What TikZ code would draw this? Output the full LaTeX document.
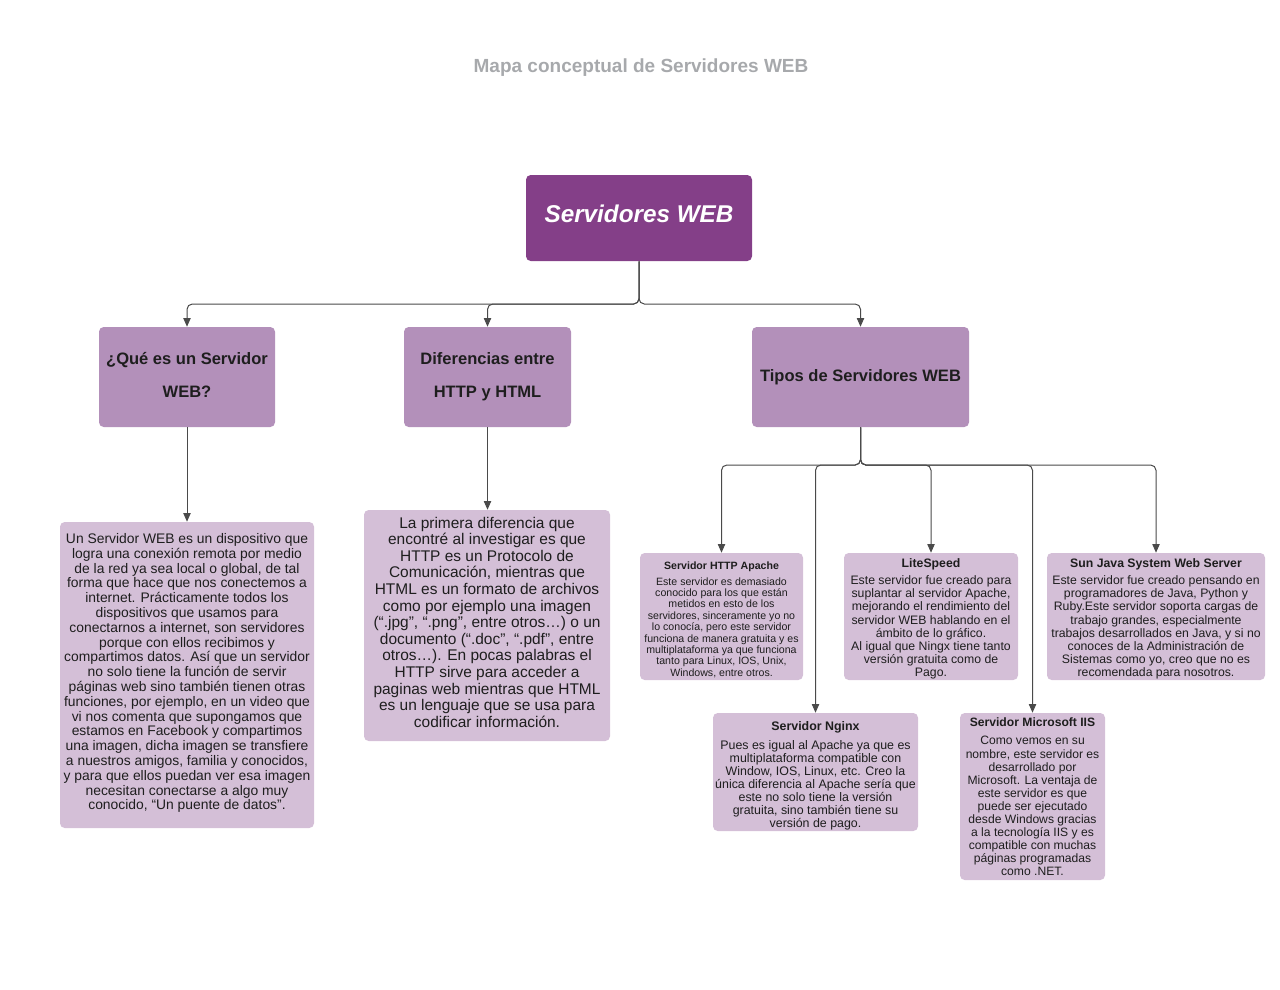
\documentclass[tikz,border=0pt]{standalone}
\usepackage{fontspec}
\setmainfont{Liberation Sans}
\usetikzlibrary{arrows.meta}
\definecolor{rootc}{HTML}{843F88}
\definecolor{midc}{HTML}{B390BA}
\definecolor{leafc}{HTML}{D4BFD7}
\definecolor{titlec}{HTML}{A7A9AC}
\definecolor{linec}{HTML}{4A4A4A}
\definecolor{textc}{HTML}{1E1E1E}
\newcommand{\upby}[1]{\rule[-#1]{0pt}{0pt}}
\newcommand{\downby}[1]{\rule{0pt}{#1}}
\begin{document}
\begin{tikzpicture}[x=0.75pt,y=-0.75pt,
 boxbase/.style={rounded corners=3.5pt, inner sep=0pt, align=center, text=textc},
 rootbox/.style={boxbase, fill=rootc, text=white, font=\fontsize{18.2}{21}\selectfont\bfseries\itshape},
 midbox/.style={boxbase, fill=midc, font=\fontsize{12.4}{24.75}\selectfont\bfseries},
 leafbox/.style={boxbase, fill=leafc},
 conn/.style={draw=linec, line width=0.75pt, rounded corners=4pt, -{Triangle[length=6.5pt,width=5.5pt]}},
]
\useasboundingbox (0,0) rectangle (1280,989);

\node[font=\fontsize{14.25}{17}\selectfont\bfseries, text=titlec] (title) at (641,67.5) {Mapa conceptual de Servidores WEB};

\node[rootbox, minimum width=169.5pt, minimum height=64.5pt] (root) at (639,218) {Servidores WEB\upby{6pt}};

\node[midbox, minimum width=132pt, minimum height=75pt] (q1) at (187,377) {¿Qué es un Servidor\\WEB?\upby{3pt}};
\node[midbox, minimum width=125.25pt, minimum height=75pt] (q2) at (487.5,377) {Diferencias entre\\HTTP y HTML\upby{3pt}};
\node[midbox, minimum width=162.75pt, minimum height=75pt] (q3) at (860.5,377) {Tipos de Servidores WEB};

\node[leafbox, minimum width=190.5pt, minimum height=229.5pt, font=\fontsize{10.4}{11.1}\selectfont] (t1) at (187,675) {Un Servidor WEB es un dispositivo que\\
logra una conexión remota por medio\\
de la red ya sea local o global, de tal\\
forma que hace que nos conectemos a\\
internet. Prácticamente todos los\\
dispositivos que usamos para\\
conectarnos a internet, son servidores\\
porque con ellos recibimos y\\
compartimos datos. Así que un servidor\\
no solo tiene la función de servir\\
páginas web sino también tienen otras\\
funciones, por ejemplo, en un video que\\
vi nos comenta que supongamos que\\
estamos en Facebook y compartimos\\
una imagen, dicha imagen se transfiere\\
a nuestros amigos, familia y conocidos,\\
y para que ellos puedan ver esa imagen\\
necesitan conectarse a algo muy\\
conocido, “Un puente de datos”.\upby{5pt}};

\node[leafbox, minimum width=184.5pt, minimum height=173.25pt, font=\fontsize{11.6}{12.45}\selectfont] (t2) at (487,625.5) {La primera diferencia que\\
encontré al investigar es que\\
HTTP es un Protocolo de\\
Comunicación, mientras que\\
HTML es un formato de archivos\\
como por ejemplo una imagen\\
(“.jpg”, “.png”, entre otros…) o un\\
documento (“.doc”, “.pdf”, entre\\
otros…). En pocas palabras el\\
HTTP sirve para acceder a\\
paginas web mientras que HTML\\
es un lenguaje que se usa para\\
codificar información.\upby{5pt}};

\node[leafbox, minimum width=122.25pt, minimum height=95.25pt, font=\fontsize{7.95}{8.55}\selectfont] (apache) at (721.5,616.5) {\downby{10.3pt}\textbf{Servidor HTTP Apache}\\[3.4pt]
Este servidor es demasiado\\
conocido para los que están\\
metidos en esto de los\\
servidores, sinceramente yo no\\
lo conocía, pero este servidor\\
funciona de manera gratuita y es\\
multiplataforma ya que funciona\\
tanto para Linux, IOS, Unix,\\
Windows, entre otros.};

\node[leafbox, minimum width=130.5pt, minimum height=95.25pt, font=\fontsize{9.2}{9.8}\selectfont] (lite) at (931,616.5) {\downby{9.7pt}\textbf{LiteSpeed}\\[3.5pt]
Este servidor fue creado para\\
suplantar al servidor Apache,\\
mejorando el rendimiento del\\
servidor WEB hablando en el\\
ámbito de lo gráfico.\\
Al igual que Ningx tiene tanto\\
versión gratuita como de\\
Pago.};

\node[leafbox, minimum width=163.5pt, minimum height=95.25pt, font=\fontsize{9.2}{9.8}\selectfont] (sun) at (1156,616.5) {\downby{9.7pt}\textbf{Sun Java System Web Server}\\[3.5pt]
Este servidor fue creado pensando en\\
programadores de Java, Python y\\
Ruby.Este servidor soporta cargas de\\
trabajo grandes, especialmente\\
trabajos desarrollados en Java, y si no\\
conoces de la Administración de\\
Sistemas como yo, creo que no es\\
recomendada para nosotros.};

\node[leafbox, minimum width=153.75pt, minimum height=88.5pt, font=\fontsize{9.3}{9.8}\selectfont] (nginx) at (815.5,772) {\downby{12.8pt}\textbf{Servidor Nginx}\\[4.4pt]
Pues es igual al Apache ya que es\\
multiplataforma compatible con\\
Window, IOS, Linux, etc. Creo la\\
única diferencia al Apache sería que\\
este no solo tiene la versión\\
gratuita, sino también tiene su\\
versión de pago.};

\node[leafbox, minimum width=108.75pt, minimum height=125.25pt, font=\fontsize{9.1}{9.8}\selectfont] (iis) at (1032.5,796.5) {\textbf{Servidor Microsoft IIS}\\[4.4pt]
Como vemos en su\\
nombre, este servidor es\\
desarrollado por\\
Microsoft. La ventaja de\\
este servidor es que\\
puede ser ejecutado\\
desde Windows gracias\\
a la tecnología IIS y es\\
compatible con muchas\\
páginas programadas\\
como .NET.};

\coordinate (j0) at (639,304);
\coordinate (j1) at (860.5,465);

\draw[conn] (root.south) -- (root.south |- j0) -| (q1.north);
\draw[conn] (root.south) -- (root.south |- j0) -| (q2.north);
\draw[conn] (root.south) -- (root.south |- j0) -| (q3.north);

\draw[conn] (q1.south) -- (t1.north);
\draw[conn] (q2.south) -- (q2.south |- t2.north);

\draw[conn] (q3.south) -- (q3.south |- j1) -| (apache.north);
\draw[conn] (q3.south) -- (q3.south |- j1) -| (nginx.north);
\draw[conn] (q3.south) -- (q3.south |- j1) -| (lite.north);
\draw[conn] (q3.south) -- (q3.south |- j1) -| (iis.north);
\draw[conn] (q3.south) -- (q3.south |- j1) -| (sun.north);
\end{tikzpicture}
\end{document}
